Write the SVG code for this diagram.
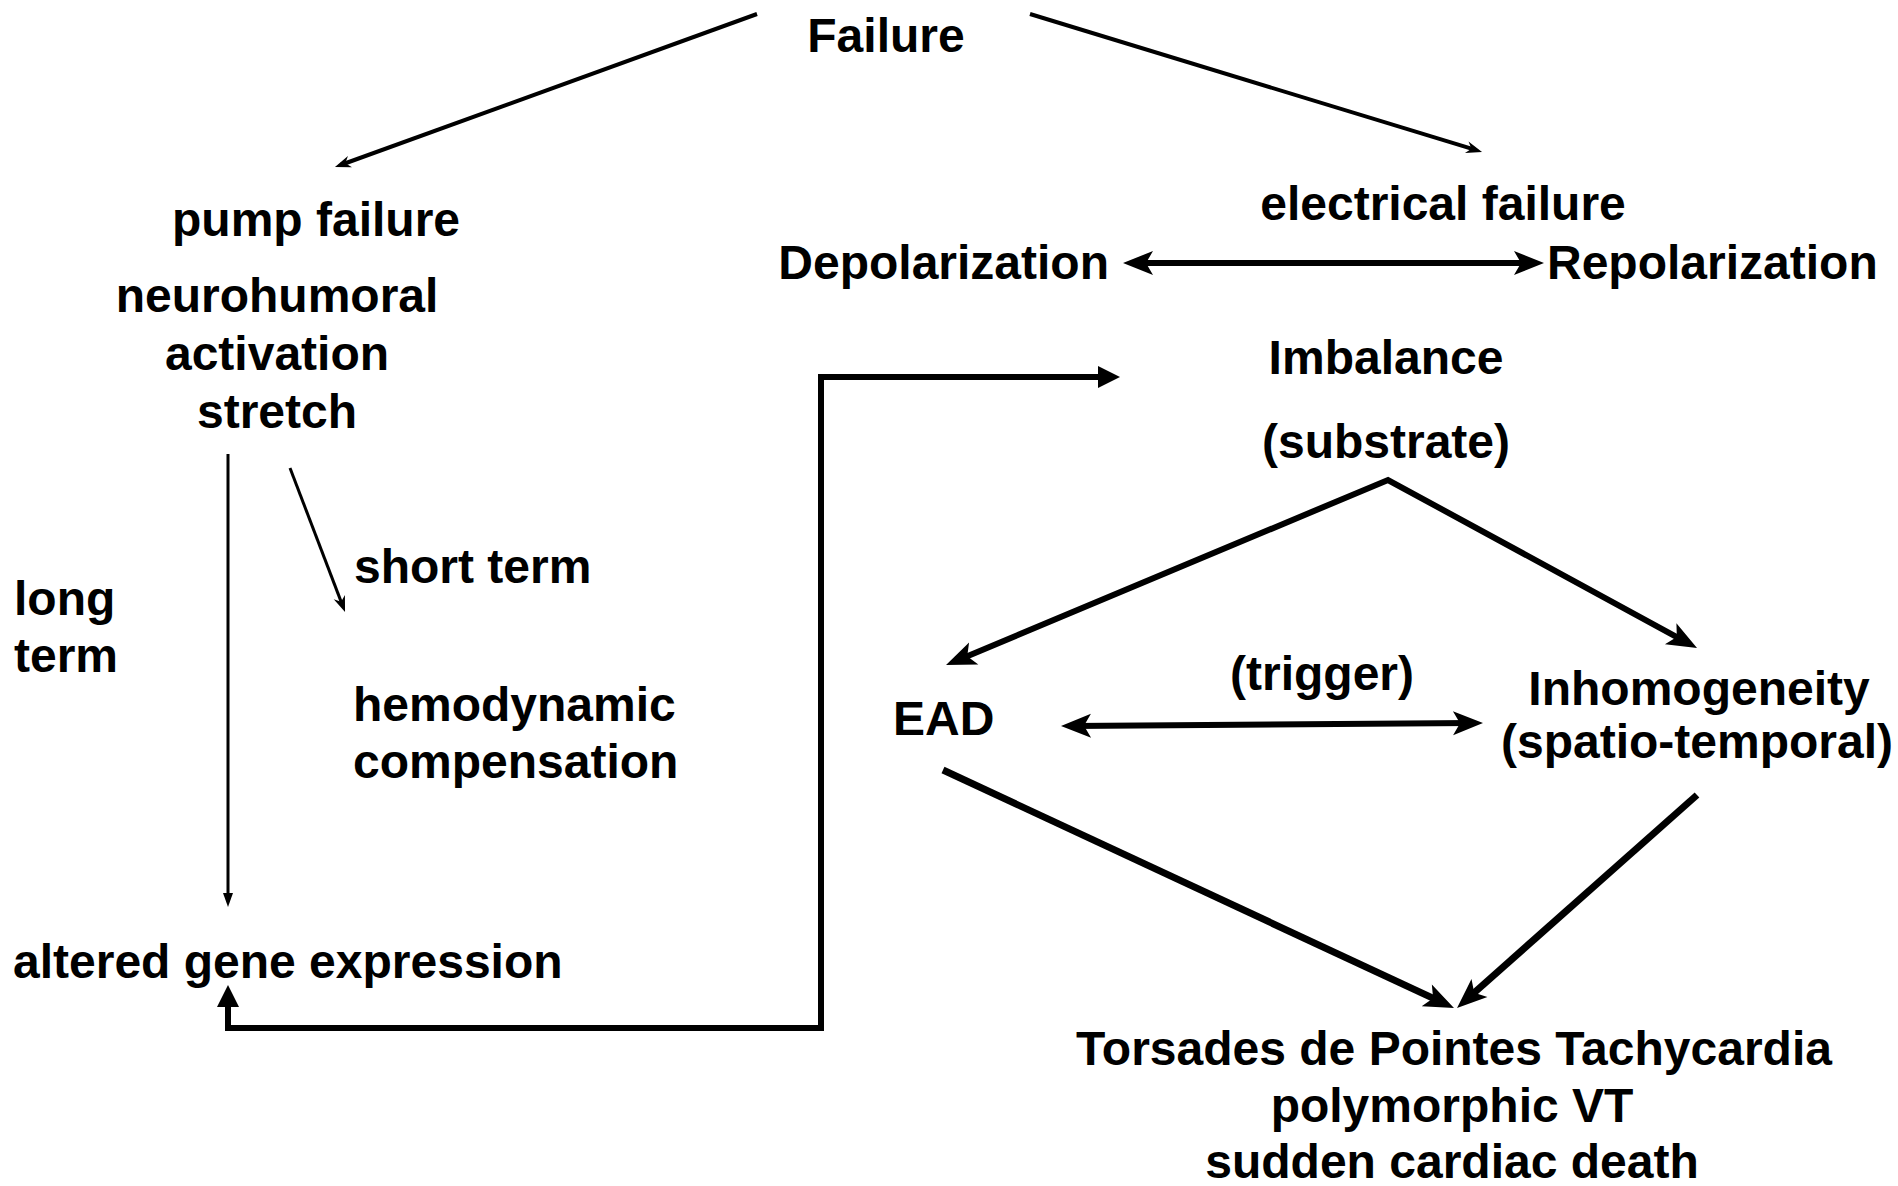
<svg xmlns="http://www.w3.org/2000/svg" width="1898" height="1186" viewBox="0 0 1898 1186">
<style>
text{font-family:"Liberation Sans",Arial,sans-serif;font-weight:bold;font-size:48px;fill:#000}
.c{text-anchor:middle}
.e{text-anchor:end}
.ln{fill:none;stroke:#000;stroke-linejoin:miter}
</style>
<defs>
<marker id="barbS" markerUnits="userSpaceOnUse" markerWidth="17" markerHeight="13" refX="10" refY="6" orient="auto-start-reverse" overflow="visible"><path d="M0,0 L16,6 L0,12 L5,6 z" fill="#000"/></marker>
<marker id="barbL" markerUnits="userSpaceOnUse" markerWidth="31" markerHeight="25" refX="18" refY="12" orient="auto-start-reverse" overflow="visible"><path d="M0,0 L30,12 L0,24 L7,12 z" fill="#000"/></marker>
<marker id="tri" markerUnits="userSpaceOnUse" markerWidth="23" markerHeight="23" refX="10" refY="11" orient="auto-start-reverse" overflow="visible"><path d="M0,0 L22,11 L0,22 z" fill="#000"/></marker>
<marker id="triS" markerUnits="userSpaceOnUse" markerWidth="15" markerHeight="11" refX="8" refY="5" orient="auto-start-reverse" overflow="visible"><path d="M0,0 L14,5 L0,10 z" fill="#000"/></marker>
</defs>
<rect width="1898" height="1186" fill="#fff"/>
<g id="connectors">
<path id="failure-pump" class="ln" stroke-width="4" d="M757,14 L340.6,165" marker-end="url(#barbS)"/>
<path id="failure-electrical" class="ln" stroke-width="4" d="M1030,14 L1476.3,150.2" marker-end="url(#barbS)"/>
<path id="depol-repol" class="ln" stroke-width="6" d="M1135,263 L1532,263" marker-start="url(#barbL)" marker-end="url(#barbL)"/>
<path id="long-term" class="ln" stroke-width="3" d="M228,454 L228,901" marker-end="url(#triS)"/>
<path id="short-term" class="ln" stroke-width="3" d="M290,468 L342.9,606.4" marker-end="url(#barbS)"/>
<path id="feedback" class="ln" stroke-width="6" d="M228,997 L228,1028 L821,1028 L821,377 L1108,377" marker-start="url(#tri)" marker-end="url(#tri)"/>
<path id="substrate-ead-inhom" class="ln" stroke-width="6" d="M957.1,660.4 L1388,480 L1686.5,642.3" marker-start="url(#barbL)" marker-end="url(#barbL)"/>
<path id="ead-inhom" class="ln" stroke-width="6" d="M1073,725.9 L1471,723.1" marker-start="url(#barbL)" marker-end="url(#barbL)"/>
<path id="ead-torsades" class="ln" stroke-width="7" d="M943,770 L1443.1,1002.9" marker-end="url(#barbL)"/>
<path id="inhom-torsades" class="ln" stroke-width="7" d="M1697,795 L1466,1000" marker-end="url(#barbL)"/>
</g>
<g id="failure"><text class="c" x="886" y="52">Failure</text></g>
<g id="pump-failure"><text class="c" x="316" y="236">pump failure</text></g>
<g id="neurohumoral"><text class="c" x="277" y="312">neurohumoral</text><text class="c" x="277" y="370">activation</text><text class="c" x="277" y="428">stretch</text></g>
<g id="short-term-label"><text x="354" y="583">short term</text></g>
<g id="long-term-label"><text x="14" y="615">long</text><text x="14" y="672">term</text></g>
<g id="hemodynamic"><text x="353" y="721">hemodynamic</text><text x="353" y="778">compensation</text></g>
<g id="altered-gene"><text x="13" y="978">altered gene expression</text></g>
<g id="electrical-failure"><text class="c" x="1443" y="220">electrical failure</text></g>
<g id="depolarization"><text class="e" x="1109" y="279">Depolarization</text></g>
<g id="repolarization"><text x="1547" y="279">Repolarization</text></g>
<g id="imbalance"><text class="c" x="1386" y="374">Imbalance</text><text class="c" x="1386" y="458">(substrate)</text></g>
<g id="trigger"><text class="c" x="1322" y="690">(trigger)</text></g>
<g id="ead"><text x="893" y="735">EAD</text></g>
<g id="inhomogeneity"><text class="c" x="1699" y="705">Inhomogeneity</text><text class="c" x="1697" y="758">(spatio-temporal)</text></g>
<g id="torsades"><text class="c" x="1454" y="1065">Torsades de Pointes Tachycardia</text><text class="c" x="1452" y="1122">polymorphic VT</text><text class="c" x="1452" y="1178">sudden cardiac death</text></g>
</svg>
